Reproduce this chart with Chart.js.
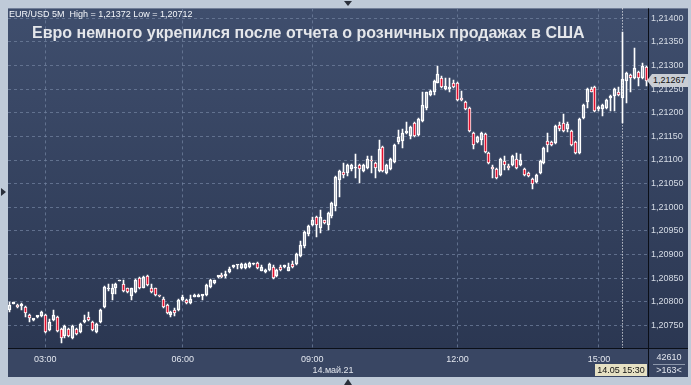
<!DOCTYPE html>
<html>
<head>
<meta charset="utf-8">
<script src="https://cdn.jsdelivr.net/npm/chart.js@4.4.1/dist/chart.umd.min.js"></script>
<style>
  html, body { margin: 0; padding: 0; background: #bfcad8; }
  #wrap { position: relative; width: 691px; height: 385px; overflow: hidden; background: #bfcad8; }
  #chart { position: absolute; left: 0; top: 0; }
  .txt { position: absolute; font-family: "Liberation Sans", Arial, sans-serif; white-space: nowrap; line-height: 1; }
  #head { left: 9px; top: 10px; font-size: 9px; color: #f4f6fa; }
  #title { left: 32px; top: 25px; font-size: 16px; font-weight: bold; color: #e4e6ea; }
  #date { left: 333px; top: 366px; font-size: 9px; color: #e2e6ee; transform: translateX(-50%); }
  #vol { left: 652px; top: 353px; width: 34px; text-align: center; font-size: 9px; color: #e2e6ee; }
  #cnt { left: 652px; top: 366px; width: 34px; text-align: center; font-size: 9px; color: #e2e6ee; }
  #sep { position: absolute; left: 653px; top: 364px; width: 32px; height: 1px; background: #8c97ab; }
  #timeTag { left: 595px; top: 364px; width: 52px; height: 12px; line-height: 12px; text-align: center;
             font-size: 9px; color: #111; background: #e6e1c4; }
  #priceTag { left: 647px; top: 74px; width: 41px; height: 13px; line-height: 13px; font-size: 9px; color: #111;
              background: #c9cdd4; padding-left: 6px; box-sizing: border-box;
              clip-path: polygon(0 50%, 5px 0, 100% 0, 100% 100%, 5px 100%); }
  .tri { position: absolute; width: 0; height: 0; }
  #triTop { left: 344px; top: 1px; border-left: 4px solid transparent; border-right: 4px solid transparent; border-top: 5px solid #2a2f3a; }
  #triLeft { left: 1px; top: 188px; border-top: 4px solid transparent; border-bottom: 4px solid transparent; border-left: 5px solid #2a2f3a; }
  #triBot { left: 344px; top: 379px; border-left: 4px solid transparent; border-right: 4px solid transparent; border-bottom: 6px solid #2a2f3a; }
</style>
</head>
<body>
<div id="wrap">
  <canvas id="chart" width="691" height="385"></canvas>
  <div class="txt" id="head">EUR/USD 5M&nbsp; High = 1,21372 Low = 1,20712</div>
  <div class="txt" id="title">Евро немного укрепился после отчета о розничных продажах в США</div>
  <div class="txt" id="date">14.май.21</div>
  <div class="txt" id="vol">42610</div>
  <div id="sep"></div>
  <div class="txt" id="cnt">&gt;163&lt;</div>
  <div class="txt" id="timeTag">14.05 15:30</div>
  <div class="txt" id="priceTag">1,21267</div>
  <div class="tri" id="triTop"></div>
  <div class="tri" id="triLeft"></div>
  <div class="tri" id="triBot"></div>
</div>
<script>
/* Data: EUR/USD 5 minute bars, 14 May 2021 */
const opens = [
  1.20783, 1.20796, 1.20794, 1.20791, 1.20789, 1.20772, 1.20762, 1.20768, 1.20770, 1.20772,
  1.20740, 1.20762, 1.20768, 1.20743, 1.20728, 1.20743, 1.20723, 1.20743, 1.20736, 1.20757,
  1.20768, 1.20757, 1.20736, 1.20757, 1.20789, 1.20826, 1.20817, 1.20830, 1.20843, 1.20838,
  1.20828, 1.20813, 1.20821, 1.20851, 1.20830, 1.20855, 1.20828, 1.20828, 1.20813, 1.20806,
  1.20794, 1.20772, 1.20783, 1.20783, 1.20804, 1.20804, 1.20798, 1.20811, 1.20811, 1.20813,
  1.20815, 1.20832, 1.20840, 1.20853, 1.20857, 1.20855, 1.20862, 1.20874, 1.20877, 1.20872,
  1.20872, 1.20874, 1.20879, 1.20883, 1.20866, 1.20862, 1.20868, 1.20874, 1.20855, 1.20874,
  1.20874, 1.20866, 1.20879, 1.20879, 1.20896, 1.20917, 1.20943, 1.20962, 1.20979, 1.20957,
  1.20972, 1.20962, 1.20981, 1.21002, 1.21057, 1.21074, 1.21072, 1.21081, 1.21083, 1.21089,
  1.21077, 1.21083, 1.21098, 1.21094, 1.21077, 1.21128, 1.21072, 1.21081, 1.21096, 1.21138,
  1.21140, 1.21157, 1.21151, 1.21179, 1.21153, 1.21183, 1.21211, 1.21238, 1.21243, 1.21264,
  1.21274, 1.21251, 1.21251, 1.21264, 1.21264, 1.21232, 1.21223, 1.21211, 1.21157, 1.21138,
  1.21143, 1.21155, 1.21115, 1.21083, 1.21081, 1.21068, 1.21098, 1.21085, 1.21089, 1.21102,
  1.21089, 1.21081, 1.21072, 1.21060, 1.21053, 1.21072, 1.21094, 1.21140, 1.21138, 1.21136,
  1.21174, 1.21179, 1.21166, 1.21162, 1.21138, 1.21115, 1.21189, 1.21223, 1.21251, 1.21255,
  1.21209, 1.21209, 1.21211, 1.21232, 1.21236, 1.21245, 1.21232, 1.21268, 1.21281, 1.21274,
  1.21287, 1.21274, 1.21296
];
const highs = [
  1.20800, 1.20800, 1.20796, 1.20798, 1.20791, 1.20774, 1.20764, 1.20768, 1.20781, 1.20774,
  1.20764, 1.20783, 1.20770, 1.20745, 1.20751, 1.20745, 1.20751, 1.20745, 1.20755, 1.20772,
  1.20779, 1.20760, 1.20755, 1.20785, 1.20834, 1.20838, 1.20838, 1.20840, 1.20847, 1.20847,
  1.20830, 1.20830, 1.20849, 1.20853, 1.20855, 1.20857, 1.20838, 1.20830, 1.20815, 1.20809,
  1.20796, 1.20781, 1.20787, 1.20806, 1.20815, 1.20806, 1.20815, 1.20817, 1.20817, 1.20815,
  1.20838, 1.20849, 1.20847, 1.20855, 1.20860, 1.20864, 1.20874, 1.20877, 1.20877, 1.20881,
  1.20881, 1.20885, 1.20881, 1.20885, 1.20877, 1.20870, 1.20881, 1.20877, 1.20870, 1.20877,
  1.20877, 1.20881, 1.20887, 1.20904, 1.20928, 1.20949, 1.20962, 1.20979, 1.20981, 1.20994,
  1.20974, 1.20989, 1.21011, 1.21066, 1.21079, 1.21094, 1.21091, 1.21091, 1.21113, 1.21091,
  1.21091, 1.21109, 1.21109, 1.21096, 1.21143, 1.21130, 1.21091, 1.21104, 1.21134, 1.21164,
  1.21166, 1.21181, 1.21172, 1.21181, 1.21189, 1.21243, 1.21245, 1.21249, 1.21270, 1.21298,
  1.21277, 1.21274, 1.21274, 1.21270, 1.21266, 1.21247, 1.21226, 1.21213, 1.21160, 1.21151,
  1.21160, 1.21157, 1.21117, 1.21089, 1.21083, 1.21104, 1.21109, 1.21091, 1.21111, 1.21115,
  1.21113, 1.21083, 1.21074, 1.21062, 1.21070, 1.21100, 1.21128, 1.21157, 1.21140, 1.21174,
  1.21181, 1.21198, 1.21181, 1.21164, 1.21140, 1.21189, 1.21219, 1.21253, 1.21255, 1.21257,
  1.21215, 1.21219, 1.21230, 1.21238, 1.21253, 1.21255, 1.21372, 1.21287, 1.21283, 1.21338,
  1.21289, 1.21306, 1.21298
];
const lows = [
  1.20779, 1.20796, 1.20787, 1.20783, 1.20768, 1.20757, 1.20760, 1.20766, 1.20768, 1.20734,
  1.20738, 1.20760, 1.20736, 1.20712, 1.20723, 1.20726, 1.20721, 1.20730, 1.20734, 1.20755,
  1.20760, 1.20738, 1.20734, 1.20755, 1.20787, 1.20823, 1.20804, 1.20817, 1.20843, 1.20821,
  1.20819, 1.20804, 1.20819, 1.20826, 1.20828, 1.20834, 1.20819, 1.20813, 1.20811, 1.20787,
  1.20774, 1.20768, 1.20770, 1.20781, 1.20802, 1.20796, 1.20796, 1.20809, 1.20809, 1.20804,
  1.20813, 1.20830, 1.20838, 1.20851, 1.20851, 1.20851, 1.20860, 1.20872, 1.20870, 1.20870,
  1.20870, 1.20872, 1.20877, 1.20870, 1.20864, 1.20860, 1.20866, 1.20849, 1.20853, 1.20866,
  1.20872, 1.20864, 1.20872, 1.20877, 1.20894, 1.20913, 1.20940, 1.20960, 1.20936, 1.20945,
  1.20964, 1.20951, 1.20977, 1.20991, 1.21021, 1.21062, 1.21066, 1.21077, 1.21062, 1.21051,
  1.21074, 1.21081, 1.21072, 1.21062, 1.21074, 1.21074, 1.21070, 1.21079, 1.21094, 1.21134,
  1.21126, 1.21155, 1.21145, 1.21149, 1.21151, 1.21181, 1.21206, 1.21236, 1.21238, 1.21262,
  1.21253, 1.21249, 1.21243, 1.21253, 1.21226, 1.21226, 1.21206, 1.21160, 1.21123, 1.21136,
  1.21132, 1.21115, 1.21091, 1.21062, 1.21060, 1.21066, 1.21079, 1.21079, 1.21087, 1.21081,
  1.21087, 1.21066, 1.21064, 1.21038, 1.21051, 1.21070, 1.21091, 1.21117, 1.21130, 1.21134,
  1.21162, 1.21160, 1.21160, 1.21130, 1.21113, 1.21113, 1.21187, 1.21211, 1.21243, 1.21202,
  1.21204, 1.21194, 1.21209, 1.21204, 1.21204, 1.21236, 1.21179, 1.21221, 1.21243, 1.21272,
  1.21257, 1.21272, 1.21257
];
const closes = [
  1.20794, 1.20798, 1.20789, 1.20794, 1.20777, 1.20766, 1.20762, 1.20769, 1.20779, 1.20736,
  1.20757, 1.20772, 1.20738, 1.20723, 1.20749, 1.20728, 1.20749, 1.20732, 1.20753, 1.20762,
  1.20762, 1.20740, 1.20753, 1.20783, 1.20832, 1.20830, 1.20828, 1.20838, 1.20845, 1.20823,
  1.20821, 1.20828, 1.20847, 1.20828, 1.20853, 1.20836, 1.20821, 1.20815, 1.20812, 1.20789,
  1.20777, 1.20779, 1.20777, 1.20804, 1.20809, 1.20798, 1.20806, 1.20815, 1.20815, 1.20814,
  1.20836, 1.20847, 1.20845, 1.20854, 1.20853, 1.20857, 1.20870, 1.20875, 1.20877, 1.20879,
  1.20879, 1.20883, 1.20880, 1.20872, 1.20874, 1.20868, 1.20879, 1.20851, 1.20868, 1.20868,
  1.20875, 1.20874, 1.20874, 1.20902, 1.20921, 1.20947, 1.20960, 1.20972, 1.20962, 1.20979,
  1.20966, 1.20987, 1.21009, 1.21064, 1.21077, 1.21068, 1.21089, 1.21089, 1.21084, 1.21081,
  1.21089, 1.21102, 1.21097, 1.21083, 1.21123, 1.21077, 1.21089, 1.21102, 1.21132, 1.21149,
  1.21157, 1.21162, 1.21170, 1.21151, 1.21187, 1.21217, 1.21243, 1.21247, 1.21268, 1.21283,
  1.21255, 1.21257, 1.21255, 1.21255, 1.21228, 1.21228, 1.21209, 1.21162, 1.21132, 1.21149,
  1.21157, 1.21117, 1.21094, 1.21082, 1.21062, 1.21102, 1.21089, 1.21084, 1.21109, 1.21083,
  1.21100, 1.21068, 1.21066, 1.21049, 1.21068, 1.21098, 1.21126, 1.21132, 1.21132, 1.21172,
  1.21166, 1.21162, 1.21177, 1.21132, 1.21115, 1.21187, 1.21217, 1.21251, 1.21245, 1.21204,
  1.21213, 1.21217, 1.21228, 1.21233, 1.21251, 1.21238, 1.21272, 1.21285, 1.21274, 1.21294,
  1.21274, 1.21298, 1.21267
];

// x axis: bar number -> time label
const tickBars = [9, 44, 77, 114, 150];
const tickLabels = ['03:00', '06:00', '09:00', '12:00', '15:00'];
const crossBar = 156; // 14.05 15:30

// y axis
const yTicks = [1.2075, 1.2080, 1.2085, 1.2090, 1.2095, 1.2100, 1.2105,
                1.2110, 1.2115, 1.2120, 1.2125, 1.2130, 1.2135, 1.2140];
const yMin = 1.20702, yMax = 1.21421;

/* Candle parts as floating bars */
const bars = opens.map((o, i) => i);
const bodies = opens.map((o, i) => [Math.min(o, closes[i]), Math.max(o, closes[i])]);
const upperWicks = opens.map((o, i) => [Math.max(o, closes[i]), highs[i]]);
const lowerWicks = opens.map((o, i) => [lows[i], Math.min(o, closes[i])]);
const bodyColors = opens.map((o, i) => closes[i] < o ? '#e3102e' : 'rgba(0,0,0,0)');

const font = { family: '"Liberation Sans", Arial, sans-serif', size: 9 };
const stripBottom = 377, panelRight = 688;

/* Backgrounds, pixel snapping and crosshair */
const panelPlugin = {
  id: 'panel',
  beforeDraw(chart) {
    const { ctx, chartArea: a } = chart;
    const g = ctx.createLinearGradient(0, a.top, 0, a.bottom);
    g.addColorStop(0, '#3f4e6d');
    g.addColorStop(1, '#2b3752');
    ctx.save();
    ctx.fillStyle = g;
    ctx.fillRect(a.left, a.top, panelRight - a.left, a.bottom - a.top);
    ctx.fillStyle = '#394663';
    ctx.fillRect(a.left, a.bottom, panelRight - a.left, stripBottom - a.bottom);
    ctx.strokeStyle = '#0b0f18';
    ctx.lineWidth = 1;
    ctx.beginPath();
    ctx.moveTo(a.left, a.bottom + 0.5);
    ctx.lineTo(panelRight, a.bottom + 0.5);
    ctx.moveTo(a.right + 0.5, a.top);
    ctx.lineTo(a.right + 0.5, stripBottom);
    ctx.stroke();
    ctx.restore();
  },
  beforeDatasetsDraw(chart) {
    // keep candles on whole pixels so the thin outlines stay sharp
    chart.data.datasets.forEach((d, i) => {
      chart.getDatasetMeta(i).data.forEach(el => {
        el.x = Math.floor(el.x) + 0.5;
        el.y = Math.round(el.y);
        el.base = Math.round(el.base);
      });
    });
  },
  afterDatasetsDraw(chart) {
    const { ctx, chartArea: a, scales } = chart;
    const x = Math.floor(scales.x.getPixelForValue(crossBar)) + 0.5;
    ctx.save();
    ctx.strokeStyle = '#ffffff';
    ctx.lineWidth = 1;
    ctx.setLineDash([1, 2]);
    ctx.beginPath();
    ctx.moveTo(x, a.top);
    ctx.lineTo(x, a.bottom);
    ctx.stroke();
    ctx.restore();
  }
};

new Chart(document.getElementById('chart'), {
  type: 'bar',
  data: {
    labels: bars,
    datasets: [
      {
        data: bodies,
        backgroundColor: bodyColors,
        borderColor: '#ffffff',
        borderWidth: 1,
        borderSkipped: false,
        barThickness: 3,
        minBarLength: 1.5,
        grouped: false,
        order: 0
      },
      {
        data: upperWicks,
        backgroundColor: '#ffffff',
        barThickness: 1,
        grouped: false,
        order: 1
      },
      {
        data: lowerWicks,
        backgroundColor: '#ffffff',
        barThickness: 1,
        grouped: false,
        order: 1
      }
    ]
  },
  options: {
    responsive: false,
    animation: false,
    layout: { padding: { left: 8, top: 8, right: 3, bottom: 13 } },
    plugins: { legend: { display: false }, tooltip: { enabled: false } },
    scales: {
      x: {
        offset: true,
        afterFit: (s) => { s.height = 24; },
        afterBuildTicks: (s) => { s.ticks = tickBars.map(v => ({ value: v })); },
        grid: { offset: false, drawTicks: false, color: 'rgba(112,128,158,0.75)' },
        border: { display: false, dash: [3, 3] },
        ticks: {
          autoSkip: false, maxRotation: 0, padding: 6, color: '#e2e6ee', font: font,
          callback: (v) => tickLabels[tickBars.indexOf(v)] || ''
        }
      },
      y: {
        position: 'right',
        min: yMin,
        max: yMax,
        afterFit: (s) => { s.width = 40; },
        afterBuildTicks: (s) => { s.ticks = yTicks.map(v => ({ value: v })); },
        grid: { drawTicks: false, color: 'rgba(112,128,158,0.75)' },
        border: { display: false, dash: [3, 3] },
        ticks: {
          padding: 3, color: '#d6dce6', font: font,
          callback: (v) => v.toFixed(5).replace('.', ',')
        }
      }
    }
  },
  plugins: [panelPlugin]
});
</script>
</body>
</html>
